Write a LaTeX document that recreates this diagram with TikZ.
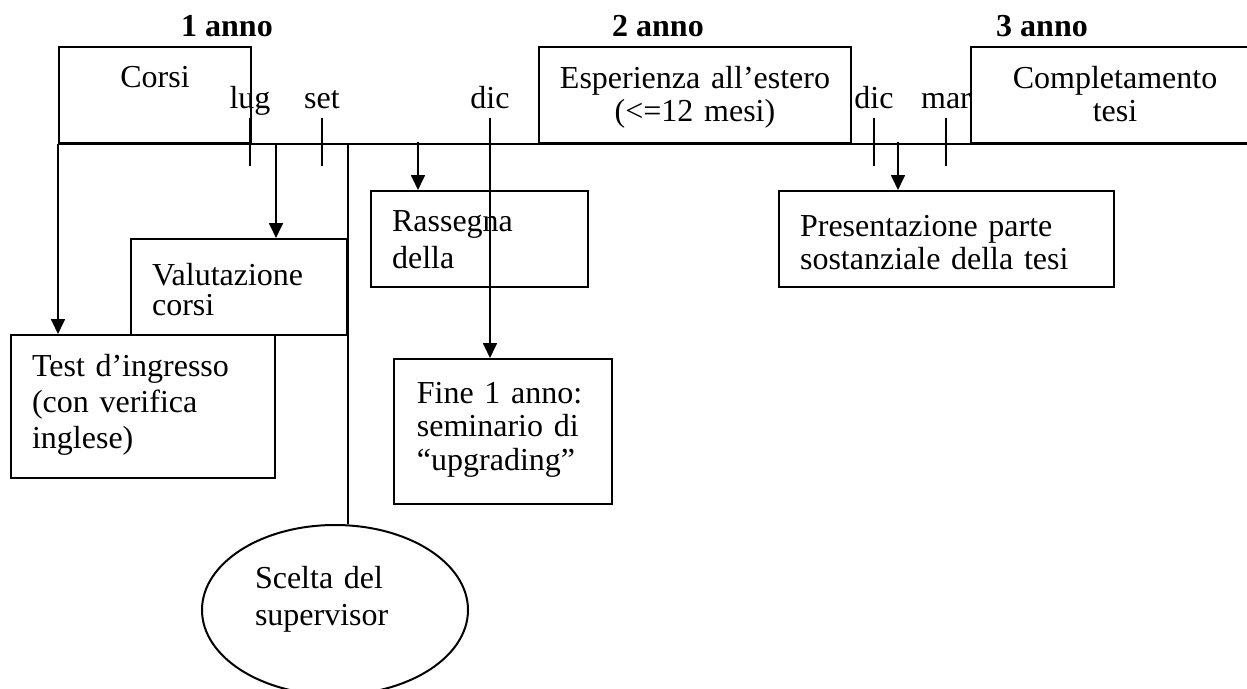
\documentclass[tikz,border=0pt]{standalone}
\usepackage{fontspec}
\setmainfont{Liberation Serif}
\usetikzlibrary{positioning, shapes.geometric, arrows.meta, calc}

\begin{document}
\begin{tikzpicture}[
    x=0.375pt, y=-0.375pt,
    line width=0.75pt,
    box/.style={rectangle, draw, anchor=north west, inner ysep=0pt, align=left, font=\fontsize{12}{12.4}\selectfont},
    phase/.style={box, inner xsep=0pt, align=center, text height=15.4pt, text depth=20.6pt},
    step box/.style={box, inner xsep=7.9pt},
    year/.style={anchor=base, inner sep=0pt, font=\fontsize{12}{14}\selectfont\bfseries},
    month/.style={anchor=base, inner sep=0pt, font=\fontsize{12}{14}\selectfont},
    arrow/.style={-{Triangle[length=5.6pt, width=5.2pt]}},
]
\clip (0,0) rectangle (1247,689);

% ============================================
% YEARS
% ============================================
\node[year] (y1) at (227,37) {1 anno};
\node[year] (y2) at (658,37) {2 anno};
\node[year] (y3) at (1042,37) {3 anno};

% ============================================
% MONTHS
% ============================================
\node[month] (lug) at (250,108) {lug};
\node[month] (set) at (322,108) {set};
\node[month] (dic1) at (490,108) {dic};
\node[month] (dic2) at (874,108) {dic};
\node[month] (mar) at (946,108) {mar};

% ============================================
% PHASES ON THE TIMELINE
% ============================================
\node[phase, text width=72pt, text height=15pt, text depth=21pt] (corsi) at (58,46) {Corsi};

\node[phase, text width=117pt] (estero) at (538,46) {
    Esperienza all’estero\\
    (<=12 mesi)
};

% white fill hides the end of "mar"
\node[phase, fill=white, text width=108pt] (tesi) at (970,46) {
    Completamento\\
    tesi
};

% timeline
\draw (corsi.south west) -- (tesi.south east);

% ============================================
% STEPS BELOW THE TIMELINE
% ============================================
\node[step box, text width=65.2pt, text height=17.6pt, text depth=18.4pt,
      font=\fontsize{12}{11.25}\selectfont] (valut) at (130,238) {
    Valutazione\\
    corsi
};

\node[step box, text width=83.2pt, text height=15.4pt, text depth=38.2pt,
      font=\fontsize{12}{13.5}\selectfont] (test) at (10,334) {
    Test d’ingresso\\
    (con verifica\\
    inglese)
};

\node[step box, text width=65.6pt, text height=15pt, text depth=21pt,
      font=\fontsize{12}{14}\selectfont] (rassegna) at (370,190) {
    Rassegna\\
    della
};

\node[step box, inner xsep=8.6pt, text width=64.55pt, text height=16.5pt, text depth=37.9pt,
      font=\fontsize{12}{12.6}\selectfont] (fine) at (393,358) {
    Fine 1 anno:\\
    seminario di\\
    “upgrading”
};

\node[step box, text width=109.8pt, text height=16.9pt, text depth=19.1pt] (present) at (778,190) {
    Presentazione parte\\
    sostanziale della tesi
};

\node[ellipse, draw, inner sep=0pt, minimum width=99.75pt, minimum height=63.75pt,
      text width=60pt, align=left, text height=10pt, text depth=26.5pt,
      font=\fontsize{12}{13.9}\selectfont] (scelta) at (335,610) {
    Scelta del\\
    supervisor
};

% ============================================
% TICKS
% ============================================
\draw ([yshift=-3.75pt]lug.base) -- ([yshift=-21.75pt]lug.base);
\draw ([yshift=-3.75pt]set.base) -- ([yshift=-21.75pt]set.base);
\draw ([yshift=-3.75pt]dic2.base) -- ([yshift=-21.75pt]dic2.base);
\draw ([yshift=-3.75pt]mar.base) -- ([yshift=-21.75pt]mar.base);

% ============================================
% ARROWS
% ============================================
\coordinate (r0) at (418,142);
\coordinate (p0) at (898,142);

\draw[arrow] (corsi.south west) -- (corsi.south west |- test.north);
\draw[arrow] (test.north east |- corsi.south) -- (test.north east |- valut.north);
\draw (valut.north east |- corsi.south) -- (valut.north east |- scelta.north);
\draw[arrow] (r0) -- (r0 |- rassegna.north);
\draw[arrow] ([yshift=-3.75pt]dic1.base) -- (dic1.base |- fine.north);
\draw[arrow] (p0) -- (p0 |- present.north);

\end{tikzpicture}
\end{document}
